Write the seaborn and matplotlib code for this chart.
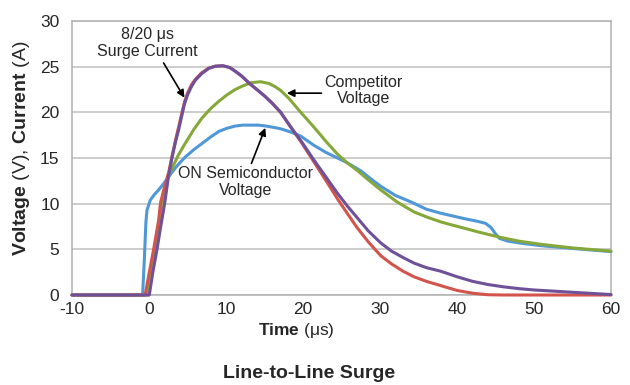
import matplotlib
matplotlib.use("Agg")
import matplotlib.pyplot as plt
import seaborn as sns
import pandas as pd

# ON Semiconductor voltage (V)
on_time = [-10, -0.83, -0.6, -0.4, -0.26, 0.17, 0.7, 1.25, 1.9, 2.55, 3.6, 4.7, 5.8, 6.9, 8.0,
           9.05, 10.1, 11.2, 12.2, 13.2, 14.2, 15.2, 16.2, 17.1, 18.4, 19.7, 21.4, 23.0, 25.7,
           27.5, 29.0, 30.1, 32.0, 34.0, 36.0, 37.9, 39.2, 41.0, 42.5, 43.7, 44.4, 45.0, 45.5,
           46.6, 48.5, 50.9, 55.0, 60.0]
on_volt = [0, 0, 4.0, 8.0, 9.3, 10.4, 11.0, 11.5, 12.2, 12.95, 14.1, 15.1, 15.9, 16.6, 17.3,
           17.9, 18.25, 18.5, 18.6, 18.6, 18.6, 18.5, 18.35, 18.2, 17.85, 17.4, 16.4, 15.6, 14.5,
           13.6, 12.6, 11.9, 10.9, 10.2, 9.4, 8.95, 8.7, 8.35, 8.1, 7.85, 7.4, 6.7, 6.2,
           5.9, 5.65, 5.4, 5.1, 4.75]

# Competitor voltage (V)
comp_time = [-10, -0.13, 0.3, 0.82, 1.25, 1.7, 2.1, 2.55, 3.0, 3.8, 4.7, 5.8, 6.9, 8.0, 9.05,
             10.1, 11.2, 12.2, 13.3, 14.5, 15.6, 16.4, 17.1, 18.2, 19.5, 21.4, 23.0, 24.5, 25.7,
             27.1, 28.5, 30.1, 32.2, 34.4, 36.2, 37.9, 39.2, 41.0, 43.0, 45.7, 48.0, 50.9, 55.0, 60.0]
comp_volt = [0, 0, 2.5, 5.0, 7.6, 10.0, 11.8, 13.1, 13.9, 15.3, 16.6, 18.1, 19.4, 20.4, 21.2,
             21.9, 22.5, 22.9, 23.25, 23.35, 23.15, 22.8, 22.4, 21.5, 20.2, 18.4, 16.8, 15.4, 14.5,
             13.6, 12.6, 11.5, 10.2, 9.1, 8.5, 8.0, 7.7, 7.3, 6.85, 6.3, 5.9, 5.55, 5.15, 4.8]

# 8/20 us surge current (A), two traces
cur_time = [-10, -0.5, 0.0, 0.6, 1.25, 1.5, 2.0, 2.55, 3.0, 3.4, 3.85, 4.2, 4.6, 5.0, 5.5, 6.0,
            6.8, 7.75, 8.6, 9.6, 10.5, 11.2, 12.0, 13.0, 14.0, 15.0, 16.0, 17.1, 18.4, 19.8,
            21.4, 23.0, 24.5, 25.7, 27.0, 28.5, 30.1, 31.5, 33.0, 34.4, 36.0, 38.0, 40.0, 42.0,
            44.0, 46.0, 60.0]
cur_a = [0, 0, 2.3, 5.0, 8.2, 10.1, 11.8, 13.4, 15.2, 16.8, 18.4, 19.7, 21.1, 22.1, 23.0, 23.6,
         24.3, 24.85, 25.05, 25.1, 24.9, 24.5, 24.0, 23.2, 22.5, 21.8, 21.0, 20.0, 18.4, 16.7,
         14.6, 12.5, 10.5, 9.0, 7.4, 5.8, 4.3, 3.4, 2.6, 2.0, 1.5, 1.0, 0.5, 0.2,
         0.03, 0, 0]

cur2_time = [-10, 0.04, 0.5, 1.04, 1.5, 2.03, 2.55, 3.0, 3.4, 3.85, 4.2, 4.6, 5.0, 5.5, 6.0,
             6.8, 7.75, 8.6, 9.6, 10.5, 11.2, 12.0, 13.0, 14.0, 15.0, 16.0, 17.1, 18.4, 19.8,
             21.4, 23.0, 24.5, 25.7, 27.0, 28.5, 30.1, 31.5, 33.0, 34.4, 36.0, 37.9, 40.0, 42.0,
             44.0, 46.0, 48.0, 50.0, 55.0, 60.0]
cur2_a = [0, 0, 2.5, 5.0, 7.4, 10.0, 13.1, 15.1, 16.6, 18.1, 19.4, 20.9, 21.9, 22.8, 23.5,
          24.2, 24.8, 25.05, 25.1, 24.9, 24.5, 24.0, 23.2, 22.5, 21.8, 21.0, 20.0, 18.4, 16.8,
          14.8, 12.9, 11.1, 9.8, 8.5, 7.0, 5.7, 4.8, 4.1, 3.5, 3.0, 2.6, 2.0, 1.5,
          1.15, 0.9, 0.7, 0.55, 0.3, 0.05]

series_names = ["ON Semiconductor Voltage", "Competitor Voltage", "Surge Current A", "Surge Current B"]
series_colors = ["#4f98d8", "#86a83a", "#d2544c", "#6f5199"]

frames = []
for name, t, v in zip(series_names,
                      [on_time, comp_time, cur_time, cur2_time],
                      [on_volt, comp_volt, cur_a, cur2_a]):
    frames.append(pd.DataFrame({"time": t, "value": v, "series": name}))
df = pd.concat(frames, ignore_index=True)

sns.set_style("white")
plt.rcParams['font.family'] = ['Liberation Sans', 'DejaVu Sans']
plt.rcParams['axes.unicode_minus'] = False
plt.rcParams['mathtext.fontset'] = 'custom'
plt.rcParams['mathtext.rm'] = 'Liberation Sans'
plt.rcParams['mathtext.bf'] = 'Liberation Sans:bold'

fig = plt.figure(figsize=(6.3, 3.85), dpi=100)
ax = fig.add_axes([72 / 630, 1 - 295 / 385, 539 / 630, 274 / 385])

sns.lineplot(data=df, x="time", y="value", hue="series", hue_order=series_names,
             palette=dict(zip(series_names, series_colors)), sort=False, estimator=None,
             legend=False, linewidth=2.2, ax=ax)
for line in ax.lines:
    line.set_clip_on(False)
    line.set_zorder(3)
    line.set_solid_joinstyle("round")

ax.set_xlim(-10, 60)
ax.set_ylim(0, 30)
ax.set_xticks(range(-10, 61, 10))
ax.set_yticks(range(0, 31, 5))
ax.grid(axis="y", color="#c0c0c0", linewidth=1.1)
ax.grid(axis="x", visible=False)
for s in ax.spines.values():
    s.set_color("#b0b0b0")
    s.set_linewidth(1.1)
ax.tick_params(axis="x", direction="in", length=5, color="#b0b0b0", labelsize=12.5, pad=5)
ax.tick_params(axis="y", length=0, labelsize=12.5, pad=9)
ax.set_xlabel("")
ax.set_ylabel("")

fig.text(22 / 630, 1 - 148 / 385, r"$\mathbf{Voltage}$ (V), $\mathbf{Current}$ (A)",
         rotation=90, ha="center", va="center", fontsize=14)
fig.text(296 / 630, 1 - 331 / 385, r"$\mathbf{Time}$ (μs)", ha="center", va="center", fontsize=12.5)
fig.text(309 / 630, 1 - 373 / 385, "Line-to-Line Surge", ha="center", va="center",
         fontsize=14, fontweight="bold")

# annotations
arrow = dict(arrowstyle="-|>", color="black", lw=1.2, mutation_scale=11, shrinkA=0, shrinkB=0)
ax.text(-0.2, 27.6, "8/20 μs\nSurge Current", ha="center", va="center", fontsize=11.5,
        linespacing=1.15)
ax.annotate("", xy=(4.6, 21.6), xytext=(1.9, 25.4), arrowprops=arrow)
ax.text(12.5, 12.4, "ON Semiconductor\nVoltage", ha="center", va="center", fontsize=11.5,
        linespacing=1.15)
ax.annotate("", xy=(15.1, 18.3), xytext=(13.3, 14.4), arrowprops=arrow)
ax.text(27.9, 22.4, "Competitor\nVoltage", ha="center", va="center", fontsize=11.5,
        linespacing=1.15)
ax.annotate("", xy=(17.9, 22.1), xytext=(22.4, 22.1), arrowprops=arrow)

fig.savefig("out.png", dpi=100)
